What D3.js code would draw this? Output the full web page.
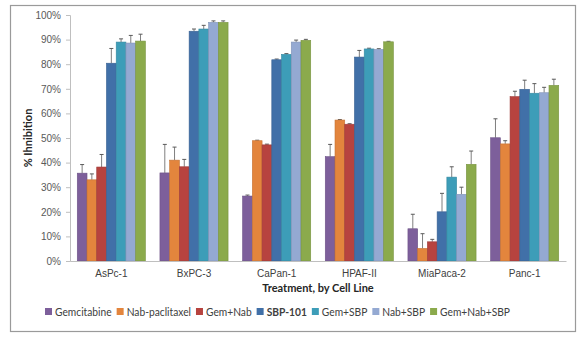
<!DOCTYPE html>
<html>
<head>
<meta charset="utf-8">
<script src="https://cdnjs.cloudflare.com/ajax/libs/d3/7.8.5/d3.min.js"></script>
<style>
  body { margin: 0; background: #fff; }
  svg { display: block; font-family: Lato, "Open Sans", sans-serif; }
</style>
</head>
<body>
<div id="chart"></div>
<script>
// cell lines and treatments
var cellLines = ['AsPc-1', 'BxPC-3', 'CaPan-1', 'HPAF-II', 'MiaPaca-2', 'Panc-1'];
var treatments = ['Gemcitabine', 'Nab-paclitaxel', 'Gem+Nab', 'SBP-101', 'Gem+SBP', 'Nab+SBP', 'Gem+Nab+SBP'];
var colors = ['#7D5F9B', '#E3853D', '#B7433F', '#4170A8', '#3D9DB8', '#94A9D2', '#8BAA4C'];

// mean % inhibition per treatment (one value per cell line)
var gemcitabine = [35.7, 35.8, 26.4, 42.4, 13.1, 50.1];
var nabPaclitaxel = [33.0, 41.0, 48.9, 57.3, 5.1, 47.6];
var gemNab = [38.2, 38.3, 47.2, 55.6, 7.8, 66.8];
var sbp101 = [80.4, 93.4, 81.8, 82.9, 20.0, 69.8];
var gemSbp = [89.0, 94.3, 84.0, 86.2, 34.1, 68.2];
var nabSbp = [88.6, 97.0, 89.0, 86.0, 27.1, 68.4];
var gemNabSbp = [89.4, 97.0, 89.7, 89.1, 39.3, 71.4];

// upper error (top of whisker, in %)
var gemcitabineErr = [39.2, 47.4, 26.8, 47.4, 19.0, 57.8];
var nabPaclitaxelErr = [35.4, 46.3, 49.1, 57.5, 11.1, 48.9];
var gemNabErr = [43.3, 41.3, 47.5, 55.8, 8.8, 69.0];
var sbp101Err = [86.4, 94.3, 82.1, 85.6, 27.5, 73.5];
var gemSbpErr = [90.3, 95.8, 84.3, 86.5, 38.3, 72.1];
var nabSbpErr = [91.7, 97.6, 89.8, 86.3, 30.0, 70.6];
var gemNabSbpErr = [92.2, 97.6, 90.1, 89.3, 44.7, 73.9];

var yTicks = [0, 10, 20, 30, 40, 50, 60, 70, 80, 90, 100];

var means = [gemcitabine, nabPaclitaxel, gemNab, sbp101, gemSbp, nabSbp, gemNabSbp];
var errs = [gemcitabineErr, nabPaclitaxelErr, gemNabErr, sbp101Err, gemSbpErr, nabSbpErr, gemNabSbpErr];

var rows = [];
cellLines.forEach(function (c, i) {
  treatments.forEach(function (t, j) {
    rows.push({ cell: c, treat: t, v: means[j][i], e: errs[j][i], k: j });
  });
});

var W = 581, H = 339;
var margin = { top: 15, right: 15, bottom: 78, left: 70 },
  width = 566 - margin.left,
  height = 261 - margin.top;

var svg = d3.select('#chart').append('svg')
  .attr('width', W)
  .attr('height', H);

// outer frame
svg.append('rect')
  .attr('x', 10.5).attr('y', 5.5)
  .attr('width', 565).attr('height', 326)
  .attr('fill', 'none').attr('stroke', '#9a9a9a').attr('stroke-width', 1.2);

var g = svg.append('g')
  .attr('transform', 'translate(' + margin.left + ',' + margin.top + ')');

var x0 = d3.scaleBand().domain(cellLines).range([0, width]).paddingInner(0.176).paddingOuter(0.088);
var x1 = d3.scaleBand().domain(treatments).range([0, x0.bandwidth()]);
var y = d3.scaleLinear().domain([0, 100]).range([height, 0]);
var color = d3.scaleOrdinal().domain(treatments).range(colors);

// y axis
var yAxis = g.append('g')
  .call(d3.axisLeft(y).tickValues(yTicks).tickSize(4).tickPadding(5).tickFormat(function (d) { return d + '%'; }));
yAxis.select('.domain').attr('stroke', '#bfbfbf');
yAxis.selectAll('.tick line').attr('stroke', '#bfbfbf');
yAxis.selectAll('text').attr('fill', '#595959').style('font-size', '10px');

// bars
var bars = g.append('g').selectAll('g.bar')
  .data(rows)
  .enter().append('g')
  .attr('transform', function (d) { return 'translate(' + (x0(d.cell) + x1(d.treat)) + ',0)'; });

// error whiskers (upper only)
bars.append('line')
  .attr('x1', x1.bandwidth() / 2).attr('x2', x1.bandwidth() / 2)
  .attr('y1', function (d) { return y(d.v); })
  .attr('y2', function (d) { return y(d.e); })
  .attr('stroke', '#7f7f7f').attr('stroke-width', 1);
bars.append('line')
  .attr('x1', x1.bandwidth() / 2 - 2).attr('x2', x1.bandwidth() / 2 + 2)
  .attr('y1', function (d) { return y(d.e); })
  .attr('y2', function (d) { return y(d.e); })
  .attr('stroke', '#595959').attr('stroke-width', 1);

bars.append('rect')
  .attr('x', 0)
  .attr('y', function (d) { return y(d.v); })
  .attr('width', x1.bandwidth())
  .attr('height', function (d) { return height - y(d.v); })
  .attr('fill', function (d) { return color(d.treat); })
  .attr('stroke', function (d) { return d3.color(color(d.treat)).darker(0.4); })
  .attr('stroke-width', 0.6);

// x axis
var xAxis = g.append('g')
  .attr('transform', 'translate(0,' + height + ')')
  .call(d3.axisBottom(x0).tickSize(0).tickPadding(9));
xAxis.select('.domain').attr('stroke', '#bfbfbf');
xAxis.selectAll('text').attr('fill', '#404040').style('font-size', '10px');

// axis titles
svg.append('text')
  .attr('transform', 'translate(32,138) rotate(-90)')
  .attr('text-anchor', 'middle')
  .attr('fill', '#262626')
  .style('font-size', '11px').style('font-weight', 'bold')
  .text('% Ihnibition');

svg.append('text')
  .attr('x', 318).attr('y', 292)
  .attr('text-anchor', 'middle')
  .attr('fill', '#262626')
  .style('font-size', '11px').style('font-weight', 'bold')
  .text('Treatment, by Cell Line');

// legend, fitted into the span 45..510 (slightly condensed, like Calibri)
var legend = svg.append('g').attr('transform', 'translate(0,312)');
var items = legend.selectAll('g.item')
  .data(treatments)
  .enter().append('g');
items.append('rect')
  .attr('width', 7).attr('height', 7).attr('y', -4)
  .attr('fill', function (d) { return color(d); });
var labels = items.append('text')
  .attr('x', 10).attr('y', 4)
  .attr('fill', '#404040')
  .style('font-size', '11.5px')
  .style('font-weight', function (d) { return d === 'SBP-101' ? 'bold' : 'normal'; })
  .text(function (d) { return d; });

var textTotal = 0;
labels.each(function () { textTotal += this.getComputedTextLength(); });
var fixed = treatments.length * 10 + (treatments.length - 1) * 5;
var squeeze = Math.min(1, (465 - fixed) / textTotal);
labels.each(function () {
  var w = this.getComputedTextLength() * squeeze;
  d3.select(this).attr('textLength', w).attr('lengthAdjust', 'spacingAndGlyphs').property('__w', w);
});

var pos = 45;
items.each(function () {
  var item = d3.select(this);
  item.attr('transform', 'translate(' + pos + ',0)');
  pos += 10 + item.select('text').property('__w') + 5;
});
</script>
</body>
</html>
